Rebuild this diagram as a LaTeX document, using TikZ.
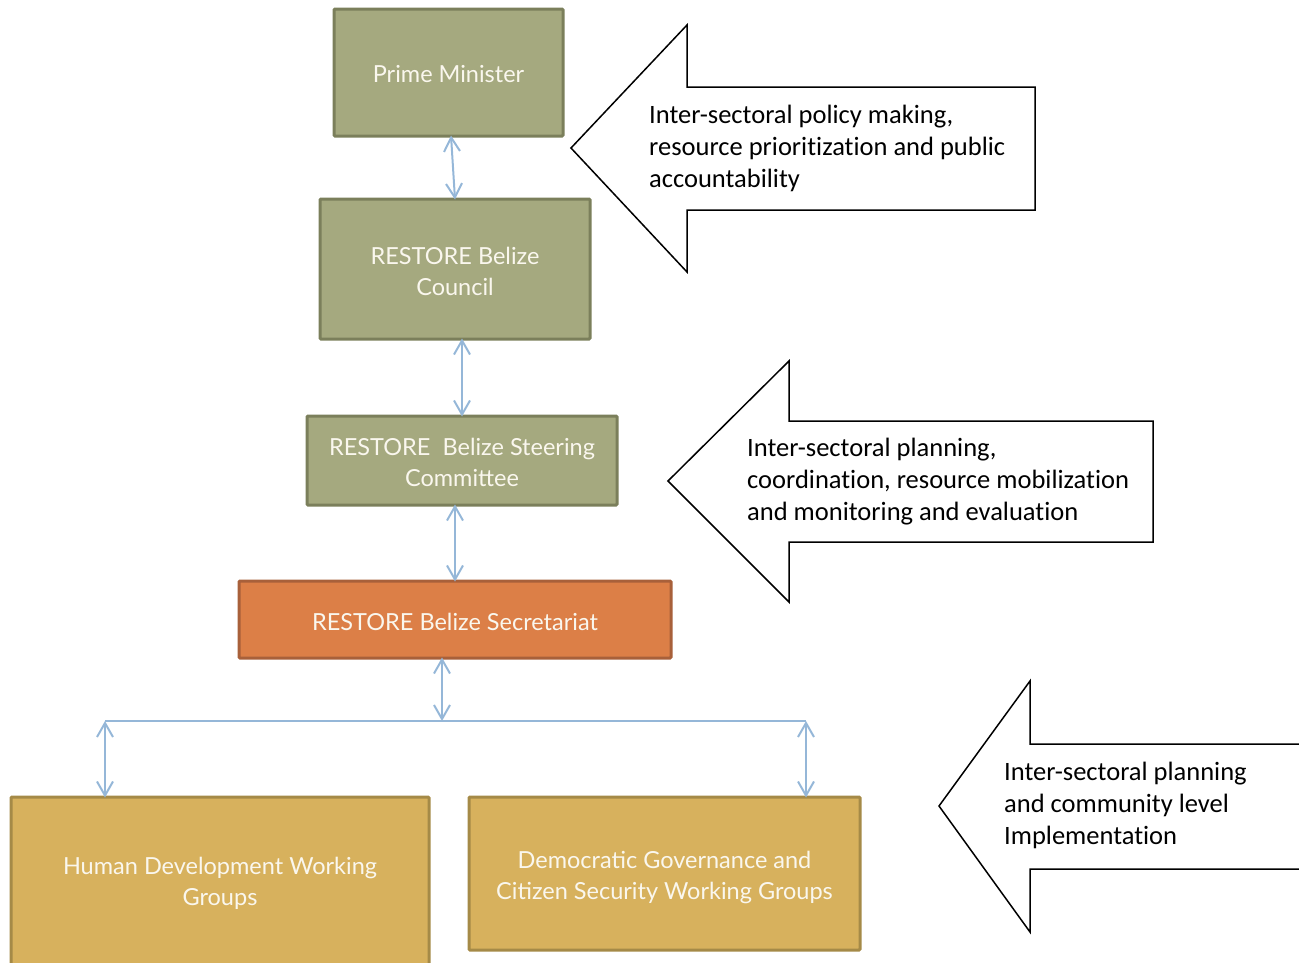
\documentclass[tikz,border=0pt]{standalone}
\usepackage{fontspec}
\setmainfont[Ligatures=NoCommon]{Carlito}
\newfontfamily\boxfont{Lato}
\usetikzlibrary{arrows.meta}
\definecolor{olivefill}{HTML}{A5A97F}
\definecolor{oliveline}{HTML}{7B7F5B}
\definecolor{orangefill}{HTML}{DC7F47}
\definecolor{orangeline}{HTML}{A8603A}
\definecolor{goldfill}{HTML}{D7B15D}
\definecolor{goldline}{HTML}{A58A47}
\definecolor{connblue}{HTML}{95B7D8}
\definecolor{boxtext}{HTML}{FAF7EE}
\tikzset{
  orgbox/.style={draw, line width=3pt, rounded corners=1pt, text=boxtext, align=center,
    font=\boxfont\fontsize{23.5}{31}\selectfont, inner sep=0pt},
  olivebox/.style={orgbox, fill=olivefill, draw=oliveline},
  orangebox/.style={orgbox, fill=orangefill, draw=orangeline},
  goldbox/.style={orgbox, fill=goldfill, draw=goldline},
  boxlabel/.style={font=\boxfont\fontsize{23.5}{31}\selectfont, text=boxtext, align=center, inner sep=0pt},
  conn/.style={draw=connblue, line width=2pt, {Straight Barb[length=14pt,width=16pt]}-{Straight Barb[length=14pt,width=16pt]}},
  plainconn/.style={draw=connblue, line width=2pt},
  callout/.style={draw=black, line width=1.5pt, fill=white, line join=miter},
  calltext/.style={align=left, anchor=west, font=\fontsize{26.5}{32}\selectfont, inner sep=0pt}
}
\begin{document}
\begin{tikzpicture}[x=1pt,y=-1pt]
\useasboundingbox (0,0) rectangle (1299,962);
% boxes
\node[olivebox, minimum width=229pt, minimum height=127pt] (pm) at (448.5,72.5) {};
\node[boxlabel] (pmt) at (448.5,74.5) {Prime Minister};
\node[olivebox, minimum width=270pt, minimum height=140pt] (council) at (455,269) {};
\node[boxlabel] (councilt) at (455,271) {RESTORE Belize\\Council};
\node[olivebox, minimum width=310pt, minimum height=89pt] (steer) at (462,460.5) {};
\node[boxlabel] (steert) at (462,462.5) {RESTORE\ \ Belize Steering\\Committee};
\node[orangebox, minimum width=432pt, minimum height=77pt] (sec) at (455,619.5) {};
\node[boxlabel] (sect) at (455,621.5) {RESTORE Belize Secretariat};
\node[goldbox, minimum width=418pt, minimum height=186pt] (hd) at (220,890) {};
\node[boxlabel] (hdt) at (220,883) {Human Development Working\\Groups};
\node[goldbox, minimum width=391pt, minimum height=153pt] (dg) at (664.5,873.5) {};
\node[boxlabel] (dgt) at (664.5,877) {Democratic Governance and\\Citizen Security Working Groups};
% connectors
\coordinate (hub) at (442,721);
\coordinate (hl) at (105,721);
\coordinate (hr) at (806,721);
\draw[conn] ([xshift=2.5pt,yshift=2pt]pm.south) -- ([yshift=-2pt]council.north);
\draw[conn] ([xshift=7pt,yshift=2pt]council.south) -- ([xshift=0pt,yshift=-2pt]steer.north);
\draw[conn] ([xshift=-7pt,yshift=2pt]steer.south) -- ([yshift=-2pt]sec.north);
\draw[conn] ([xshift=-13pt,yshift=2pt]sec.south) -- (hub);
\draw[plainconn] (hl) -- (hr);
\draw[conn] (hl) -- ([xshift=-115pt,yshift=-2pt]hd.north);
\draw[conn] (hr) -- ([xshift=141.5pt,yshift=-2pt]dg.north);
% callout arrows
\draw[callout] (571,148) -- (687,25) -- (687,87) -- (1035,87) -- (1035,210) -- (687,210) -- (687,272) -- cycle;
\node[calltext] (t1) at (649,148) {Inter-sectoral policy making,\\resource prioritization and public\\accountability};
\draw[callout] (668,481) -- (789,361) -- (789,421) -- (1153,421) -- (1153,542) -- (789,542) -- (789,602) -- cycle;
\node[calltext] (t2) at (747,482) {Inter-sectoral planning,\\coordination, resource mobilization\\and monitoring and evaluation};
\draw[callout] (939,806) -- (1030,681) -- (1030,744) -- (1310,744) -- (1310,869) -- (1030,869) -- (1030,932) -- cycle;
\node[calltext] (t3) at (1004,805) {Inter-sectoral planning\\and community level\\Implementation};
\end{tikzpicture}
\end{document}
